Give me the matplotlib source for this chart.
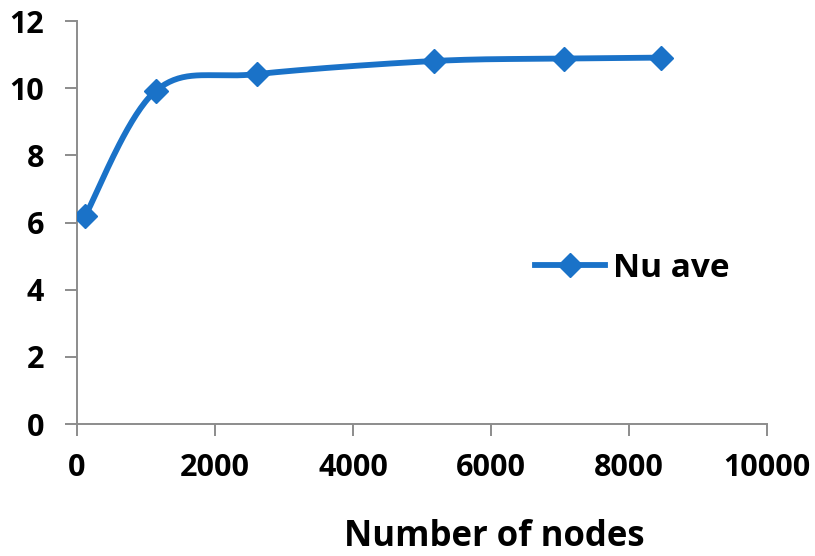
import matplotlib.pyplot as plt
import numpy as np

nodes = [116, 1147, 2612, 5181, 7054, 8462]
nu_ave = [6.19, 9.93, 10.42, 10.81, 10.88, 10.91]

x_ticks = [0, 2000, 4000, 6000, 8000, 10000]
y_ticks = [0, 2, 4, 6, 8, 10, 12]

blue = "#1a72c8"
gray = "#8c8c8c"

plt.rcParams["font.family"] = ["Open Sans", "DejaVu Sans"]
plt.rcParams["font.weight"] = "bold"

fig = plt.figure(figsize=(8.15, 5.56), dpi=100)
ax = fig.add_axes([0.0945, 0.2374, 0.8465, 0.7248])
ax.set_xlim(0, 10000)
ax.set_ylim(0, 12)


def smooth(xs, ys, n=40):
    # catmull-rom style bezier through the points, done in axes-fraction space
    sx, sy = 10000.0, 12.0
    px = np.array(xs) / sx
    py = np.array(ys) / sy
    pts = np.column_stack([px, py])
    out = []
    for i in range(len(pts) - 1):
        p0 = pts[i - 1] if i > 0 else pts[i]
        p1 = pts[i]
        p2 = pts[i + 1]
        p3 = pts[i + 2] if i + 2 < len(pts) else pts[i + 1]
        c1 = p1 + (p2 - p0) / 6
        c2 = p2 - (p3 - p1) / 6
        t = np.linspace(0, 1, n)[:, None]
        seg = ((1 - t) ** 3) * p1 + 3 * ((1 - t) ** 2) * t * c1 + 3 * (1 - t) * t ** 2 * c2 + t ** 3 * p2
        out.append(seg if i == 0 else seg[1:])
    out = np.vstack(out)
    return out[:, 0] * sx, out[:, 1] * sy


cx, cy = smooth(nodes, nu_ave)
ax.plot(cx, cy, color=blue, lw=4.2, solid_capstyle="round", zorder=2)
ax.plot(nodes, nu_ave, ls="none", marker="D", ms=12, color=blue, zorder=3)
ax.plot([], [], color=blue, lw=4.2, marker="D", ms=12, label="Nu ave")

for s in ["top", "right"]:
    ax.spines[s].set_visible(False)
for s in ["left", "bottom"]:
    ax.spines[s].set_color(gray)
    ax.spines[s].set_linewidth(1.4)

ax.set_xticks(x_ticks)
ax.set_yticks(y_ticks)
ax.tick_params(axis="both", direction="out", length=8.6, width=1.4, color=gray, labelsize=22)
ax.tick_params(axis="x", pad=12)
ax.tick_params(axis="y", pad=15)

ax.set_xlabel("Number of nodes", fontsize=25, fontweight="bold", va="center")
ax.xaxis.set_label_coords(0.605, -0.28)

ax.legend(loc="center left", bbox_to_anchor=(0.664, 0.387), frameon=False,
          fontsize=24, handlelength=2.1, handletextpad=0.24,
          borderpad=0, borderaxespad=0)

fig.savefig("out.png", dpi=100)
